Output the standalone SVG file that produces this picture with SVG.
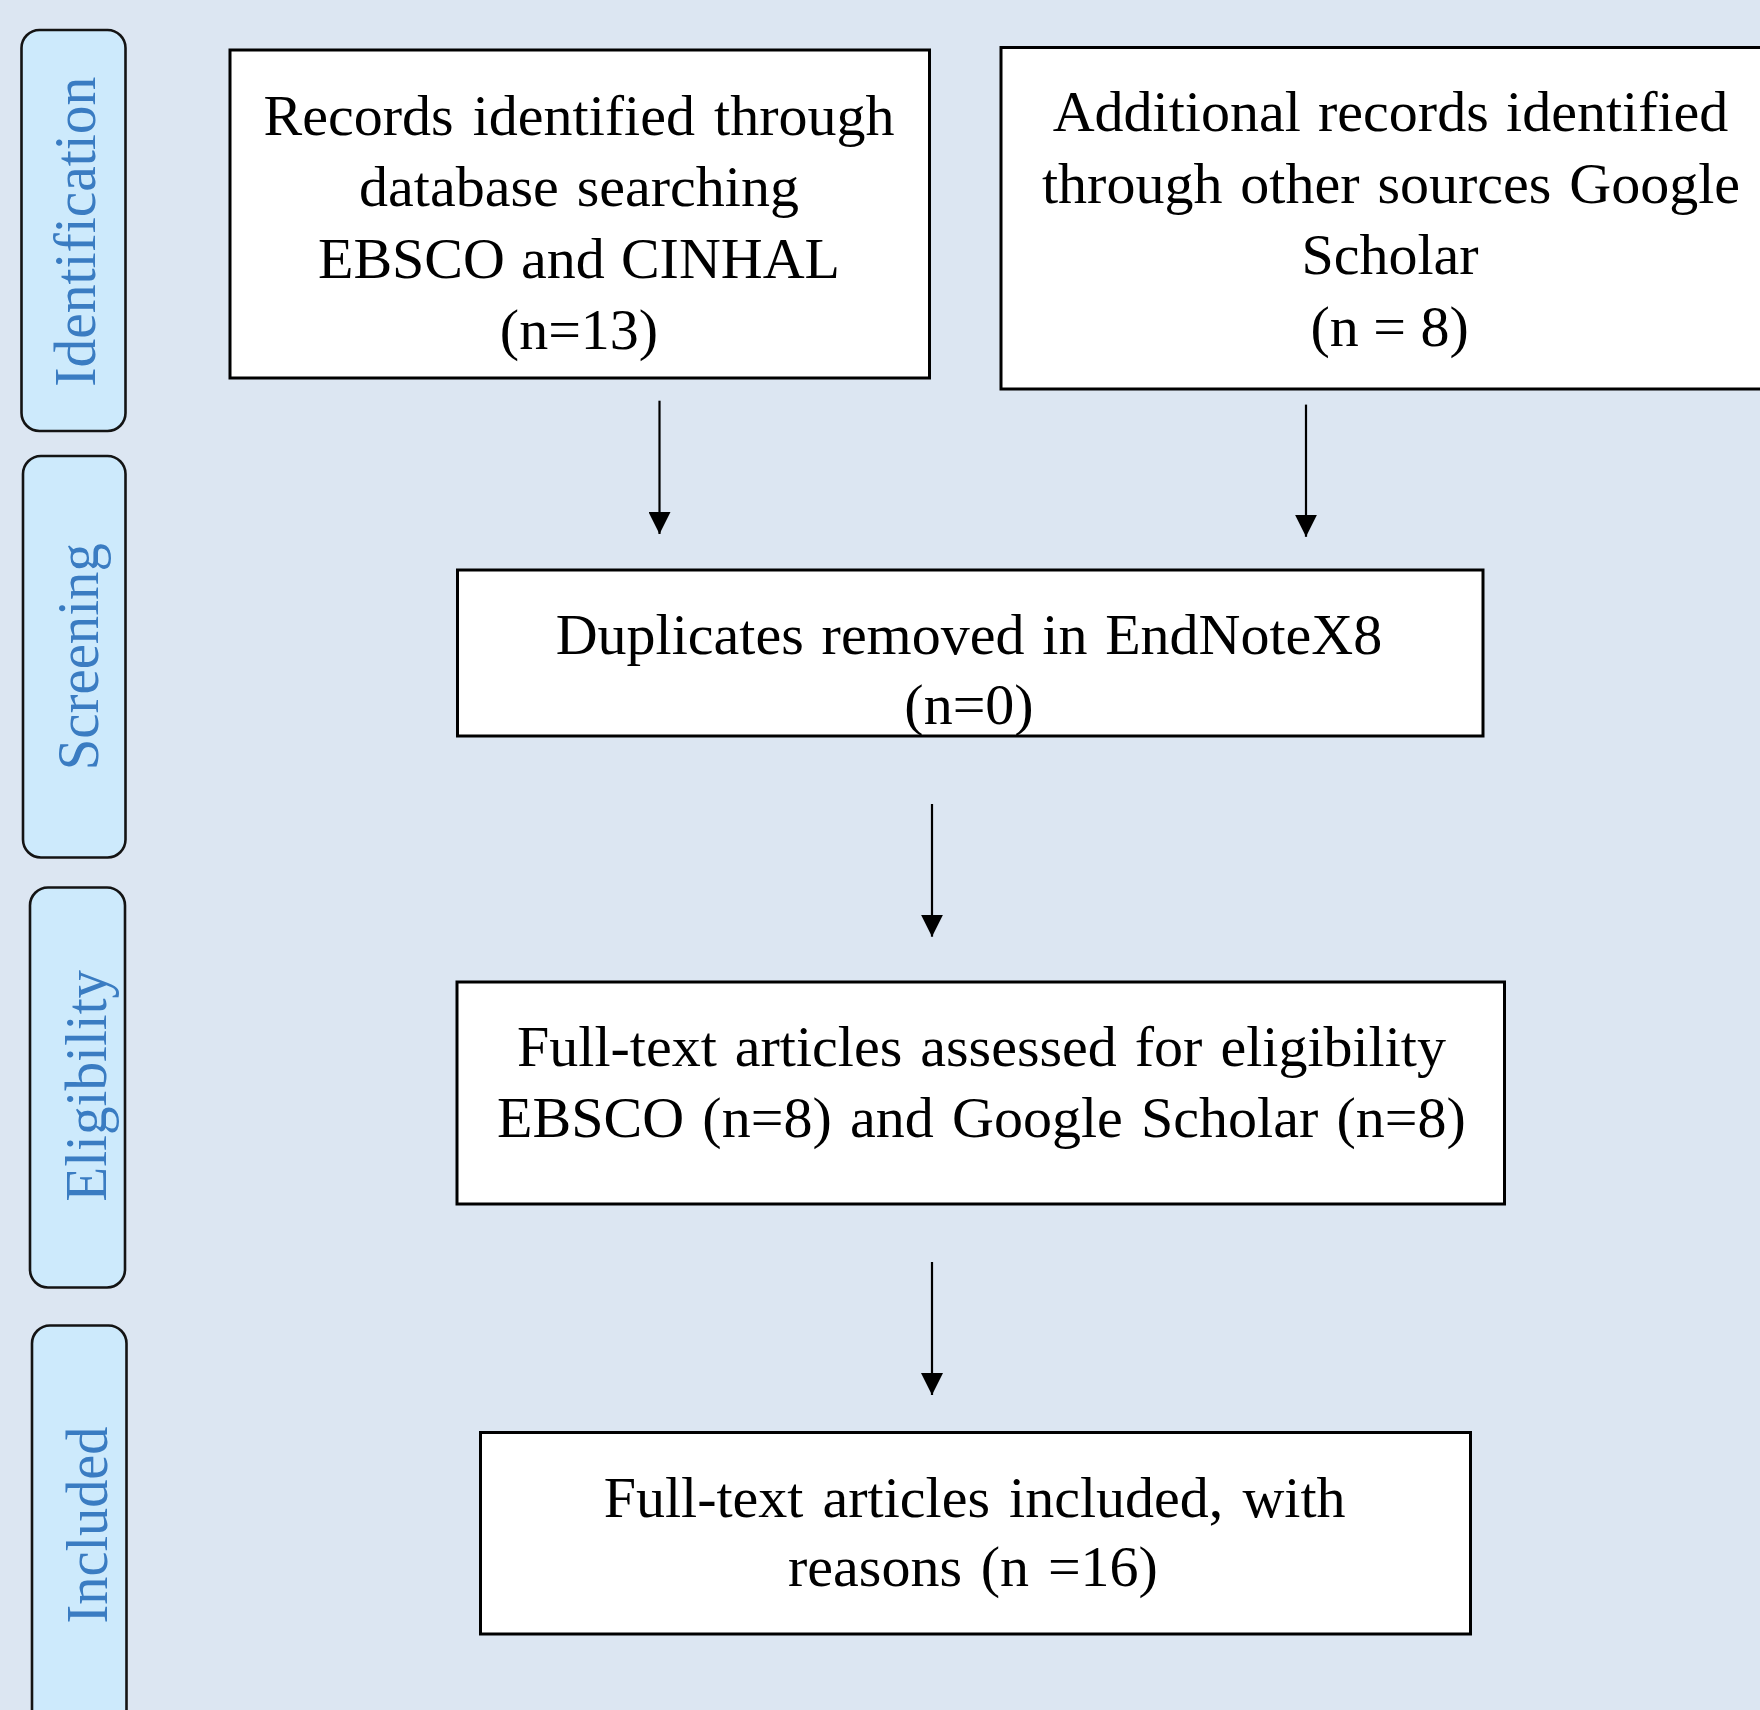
<svg xmlns="http://www.w3.org/2000/svg" width="1760" height="1710" viewBox="0 0 1760 1710">
  <defs>
    <style>
      .bg { fill: #dce6f2; }
      .tab { fill: #cdeafc; stroke: #141414; stroke-width: 2.6; }
      .tabtxt { font-family: "Liberation Serif", "Times New Roman", serif; font-size: 60px; fill: #3a7cc2; text-anchor: middle; }
      .box { fill: #ffffff; stroke: #000000; stroke-width: 3; }
      .txt { font-family: "Liberation Serif", "Times New Roman", serif; font-size: 58px; fill: #000000; text-anchor: middle; }
      .conn { stroke: #000000; stroke-width: 2.2; fill: none; marker-end: url(#arrow); }
    </style>
    <marker id="arrow" markerUnits="userSpaceOnUse" markerWidth="22" markerHeight="22" refX="22" refY="11" orient="auto">
      <path d="M0,0 L22,11 L0,22 Z" fill="#000000"/>
    </marker>
  </defs>

  <rect class="bg" x="0" y="0" width="1760" height="1710"/>

  <g id="tab-identification">
    <rect class="tab" x="21.5" y="30" width="104" height="401" rx="18" ry="18"/>
    <text class="tabtxt" transform="translate(95,231.7) rotate(-90)" x="0" y="0" textLength="310" lengthAdjust="spacingAndGlyphs">Identification</text>
  </g>
  <g id="tab-screening">
    <rect class="tab" x="23" y="456" width="102.5" height="401.5" rx="18" ry="18"/>
    <text class="tabtxt" transform="translate(98,656.7) rotate(-90)" x="0" y="0" textLength="227" lengthAdjust="spacingAndGlyphs">Screening</text>
  </g>
  <g id="tab-eligibility">
    <rect class="tab" x="30" y="887.5" width="95" height="400" rx="18" ry="18"/>
    <text class="tabtxt" transform="translate(106,1085.8) rotate(-90)" x="0" y="0" textLength="232" lengthAdjust="spacingAndGlyphs">Eligibility</text>
  </g>
  <g id="tab-included">
    <rect class="tab" x="32" y="1325.5" width="94.5" height="440" rx="18" ry="18"/>
    <text class="tabtxt" transform="translate(107,1525) rotate(-90)" x="0" y="0" textLength="197" lengthAdjust="spacingAndGlyphs">Included</text>
  </g>

  <g id="box-records">
    <rect class="box" x="230" y="50" width="699.5" height="328"/>
    <text class="txt" x="579" y="134.5" word-spacing="4.6">Records identified through</text>
    <text class="txt" x="579" y="206" word-spacing="3.5">database searching</text>
    <text class="txt" x="579" y="277.5" word-spacing="1.6">EBSCO and CINHAL</text>
    <text class="txt" x="579" y="348.5">(n=13)</text>
  </g>

  <g id="box-additional">
    <rect class="box" x="1001" y="47.5" width="800" height="341.5"/>
    <text class="txt" x="1390.5" y="131.4" word-spacing="2.8">Additional records identified</text>
    <text class="txt" x="1391" y="202.9" word-spacing="3.4">through other sources Google</text>
    <text class="txt" x="1390" y="274.3">Scholar</text>
    <text class="txt" x="1389.6" y="345.7">(n = 8)</text>
  </g>

  <g id="box-duplicates">
    <rect class="box" x="457.5" y="570" width="1025.5" height="166"/>
    <text class="txt" x="969" y="653.5" word-spacing="3.3">Duplicates removed in EndNoteX8</text>
    <text class="txt" x="969" y="724.3">(n=0)</text>
  </g>

  <g id="box-assessed">
    <rect class="box" x="457" y="982" width="1047.5" height="222"/>
    <text class="txt" x="981.5" y="1066.4" word-spacing="3.5">Full-text articles assessed for eligibility</text>
    <text class="txt" x="981.5" y="1137" word-spacing="3.8">EBSCO (n=8) and Google Scholar (n=8)</text>
  </g>

  <g id="box-included">
    <rect class="box" x="480.5" y="1432.5" width="990" height="201.5"/>
    <text class="txt" x="974.6" y="1516.5" word-spacing="4.6">Full-text articles included, with</text>
    <text class="txt" x="973" y="1585.5" word-spacing="4.3">reasons (n =16)</text>
  </g>

  <g id="connectors">
    <line class="conn" x1="659.5" y1="400.7" x2="659.5" y2="534"/>
    <line class="conn" x1="1306" y1="404.6" x2="1306" y2="536.8"/>
    <line class="conn" x1="932" y1="804" x2="932" y2="936.7"/>
    <line class="conn" x1="932" y1="1262" x2="932" y2="1395"/>
  </g>
</svg>
